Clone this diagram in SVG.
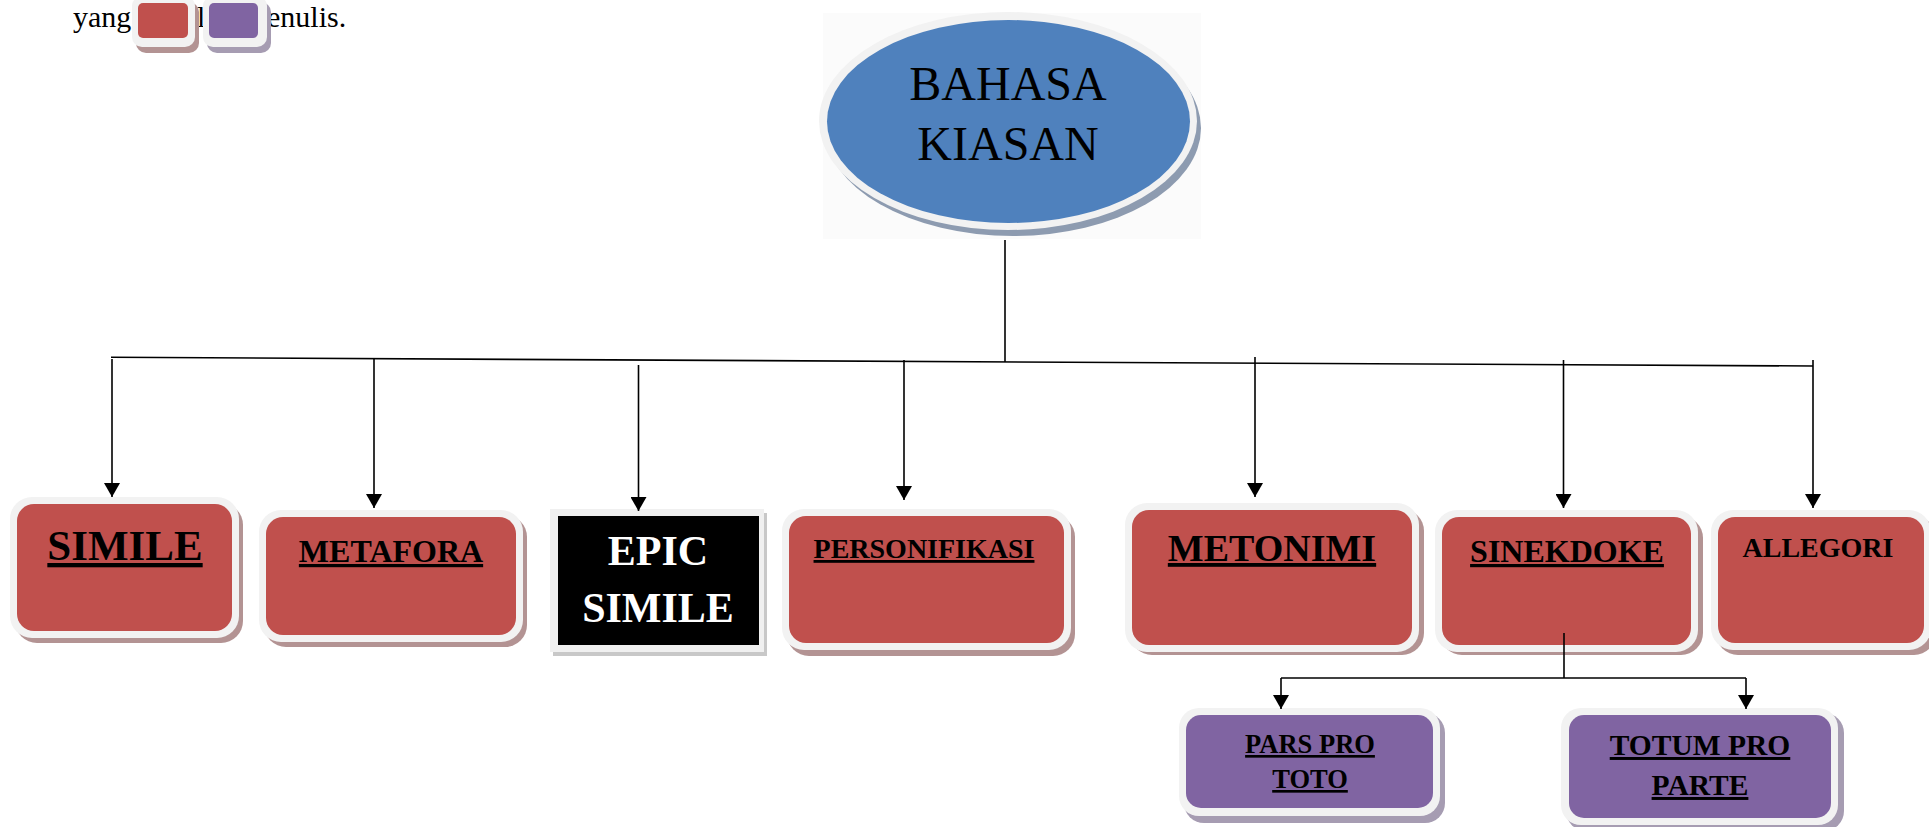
<svg xmlns="http://www.w3.org/2000/svg" width="1929" height="827" viewBox="0 0 1929 827">
<style>
.rim{fill:#f2f2f2}
.shr{fill:#b39393}
.shp{fill:#a69cb2}
.red{fill:#c0504d}
.pur{fill:#8064a2}
.lbl{font-family:"Liberation Serif","Times New Roman",serif;font-weight:bold;fill:#000;text-anchor:middle;text-decoration:underline}
.ln{stroke:#000;stroke-width:1.6;fill:none}
</style>
<defs>
<marker id="ah" viewBox="0 -8 14 16" refX="14" refY="0" markerWidth="14" markerHeight="16" markerUnits="userSpaceOnUse" orient="auto">
<path d="M0,-8 L14,0 L0,8 z" fill="#000"/>
</marker>
</defs>
<rect width="1929" height="827" fill="#fff"/>

<g id="intro">
<text font-family="Liberation Serif,'Times New Roman',serif" font-size="30" fill="#000" y="27"><tspan x="73">yang</tspan><tspan x="142">dimiliki</tspan><tspan x="252">penulis.</tspan></text>
<rect class="shr" x="136" y="2" width="63" height="51" rx="10"/>
<rect class="rim" x="132" y="-4" width="63" height="51" rx="10"/>
<rect class="red" x="138" y="3" width="50" height="35" rx="5"/>
<rect class="shp" x="207" y="2" width="64" height="51" rx="10"/>
<rect class="rim" x="203" y="-4" width="64" height="51" rx="10"/>
<rect class="pur" x="209" y="3" width="49" height="35" rx="5"/>
</g>

<g id="bahasa-kiasan">
<rect x="823" y="13" width="378" height="226" fill="#fbfbfb"/>
<ellipse cx="1013" cy="128" rx="188" ry="108" fill="#8d9bb0"/>
<ellipse cx="1008" cy="121" rx="189" ry="109" fill="#f2f2f2"/>
<ellipse cx="1008.5" cy="121.5" rx="181.5" ry="101.5" fill="#4f81bd"/>
<text font-family="Liberation Serif,'Times New Roman',serif" font-size="48" fill="#000" text-anchor="middle" x="1008" y="100">BAHASA</text>
<text font-family="Liberation Serif,'Times New Roman',serif" font-size="48" fill="#000" text-anchor="middle" x="1008" y="160">KIASAN</text>
</g>

<g id="simile">
<rect class="shr" x="15" y="503" width="228" height="140" rx="22"/>
<rect class="rim" x="10" y="497" width="229" height="141" rx="22"/>
<rect class="red" x="17" y="504" width="215" height="127" rx="17"/>
<text class="lbl" x="125" y="560" font-size="43">SIMILE</text>
</g>

<g id="metafora">
<rect class="shr" x="264" y="515" width="263" height="132" rx="22"/>
<rect class="rim" x="259" y="510" width="264" height="132" rx="22"/>
<rect class="red" x="266" y="517" width="250" height="118" rx="17"/>
<text class="lbl" x="391" y="562" font-size="32">METAFORA</text>
</g>

<g id="epic-simile">
<rect x="553" y="513" width="214" height="143" fill="#c8c8c8"/>
<rect x="550" y="509" width="214" height="143" fill="#f0f0f0"/>
<rect x="558" y="516" width="201" height="129" fill="#000"/>
<text class="lbl" x="658" y="565" font-size="42" style="fill:#fff;text-decoration:none">EPIC</text>
<text class="lbl" x="658" y="622" font-size="42" style="fill:#fff;text-decoration:none">SIMILE</text>
</g>

<g id="personifikasi">
<rect class="shr" x="787" y="515" width="288" height="141" rx="22"/>
<rect class="rim" x="782" y="509" width="289" height="141" rx="22"/>
<rect class="red" x="789" y="516" width="275" height="127" rx="17"/>
<text class="lbl" x="924" y="558" font-size="28">PERSONIFIKASI</text>
</g>

<g id="metonimi">
<rect class="shr" x="1130" y="509" width="294" height="146" rx="22"/>
<rect class="rim" x="1125" y="503" width="294" height="149" rx="22"/>
<rect class="red" x="1132" y="510" width="280" height="135" rx="17"/>
<text class="lbl" x="1272" y="561" font-size="38">METONIMI</text>
</g>

<g id="sinekdoke">
<rect class="shr" x="1440" y="516" width="263" height="139" rx="22"/>
<rect class="rim" x="1435" y="510" width="263" height="142" rx="22"/>
<rect class="red" x="1442" y="517" width="249" height="128" rx="17"/>
<text class="lbl" x="1567" y="562" font-size="32">SINEKDOKE</text>
</g>

<g id="allegori">
<rect class="shr" x="1716" y="516" width="220" height="139" rx="22"/>
<rect class="rim" x="1711" y="510" width="220" height="140" rx="22"/>
<rect class="red" x="1718" y="517" width="206" height="126" rx="17"/>
<text class="lbl" x="1818" y="557" font-size="28" style="text-decoration:none">ALLEGORI</text>
</g>

<g id="pars-pro-toto">
<rect class="shp" x="1184" y="713" width="261" height="110" rx="20"/>
<rect class="rim" x="1179" y="708" width="261" height="108" rx="20"/>
<rect class="pur" x="1186" y="715" width="247" height="93" rx="15"/>
<text class="lbl" x="1310" y="753" font-size="26.5">PARS PRO</text>
<text class="lbl" x="1310" y="788" font-size="26.5">TOTO</text>
</g>

<g id="totum-pro-parte">
<rect class="shp" x="1566" y="713" width="278" height="118" rx="20"/>
<rect class="rim" x="1561" y="708" width="277" height="117" rx="20"/>
<rect class="pur" x="1569" y="715" width="262" height="103" rx="15"/>
<text class="lbl" x="1700" y="755" font-size="29.5">TOTUM PRO</text>
<text class="lbl" x="1700" y="795" font-size="29.5">PARTE</text>
</g>

<g id="connectors">
<line class="ln" x1="1005" y1="240" x2="1005" y2="362"/>
<line class="ln" x1="111" y1="357.3" x2="1813" y2="366"/>
<line class="ln" x1="112" y1="359" x2="112" y2="497" marker-end="url(#ah)"/>
<line class="ln" x1="374" y1="359" x2="374" y2="508" marker-end="url(#ah)"/>
<line class="ln" x1="638.5" y1="365" x2="638.5" y2="511" marker-end="url(#ah)"/>
<line class="ln" x1="904" y1="360" x2="904" y2="500" marker-end="url(#ah)"/>
<line class="ln" x1="1255" y1="357" x2="1255" y2="497" marker-end="url(#ah)"/>
<line class="ln" x1="1563.5" y1="360" x2="1563.5" y2="508" marker-end="url(#ah)"/>
<line class="ln" x1="1813" y1="360" x2="1813" y2="508" marker-end="url(#ah)"/>
<line class="ln" x1="1564" y1="633" x2="1564" y2="678"/>
<line class="ln" x1="1281" y1="678" x2="1746" y2="678"/>
<line class="ln" x1="1281" y1="678" x2="1281" y2="709" marker-end="url(#ah)"/>
<line class="ln" x1="1746" y1="678" x2="1746" y2="709" marker-end="url(#ah)"/>
</g>
</svg>
